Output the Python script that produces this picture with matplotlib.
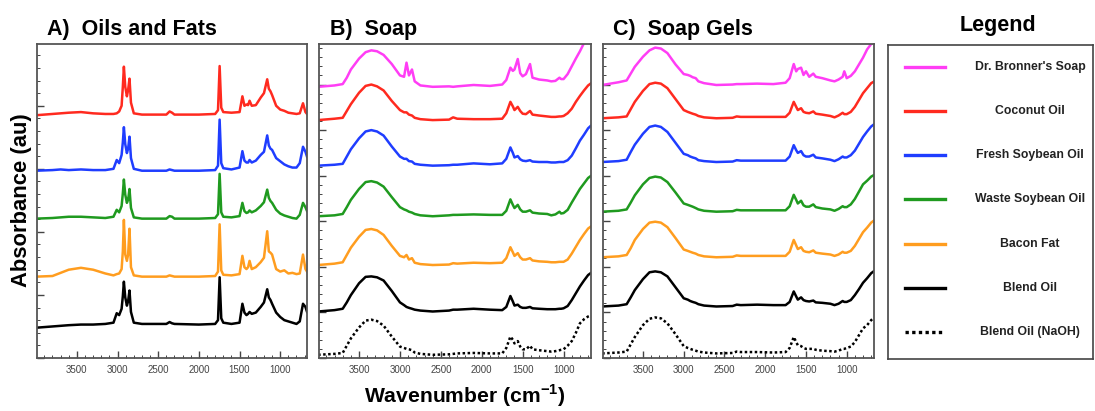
import numpy as np
import matplotlib
matplotlib.use('Agg')
from matplotlib import pyplot as plt
from matplotlib.ticker import MultipleLocator

plt.rcParams['font.family'] = ['Liberation Sans', 'DejaVu Sans']
plt.rcParams['mathtext.fontset'] = 'custom'
plt.rcParams['mathtext.rm'] = 'Liberation Sans'
plt.rcParams['mathtext.bf'] = 'Liberation Sans:bold'

# ---- panel A: oils and fats (absorbance above own baseline, stacked by offset)
wn_oils = [4000, 3800, 3700, 3600, 3450, 3300, 3150, 3050, 3010, 2980, 2950, 2935, 2922, 2905,
           2885, 2870, 2853, 2835, 2800, 2700, 2400, 2360, 2330, 2300, 2000, 1800, 1765, 1745,
           1725, 1700, 1600, 1500, 1465, 1440, 1415, 1395, 1377, 1350, 1300, 1240, 1200, 1160,
           1140, 1120, 1100, 1050, 1000, 950, 900, 850, 800, 760, 720, 690, 670]
oil_coconut = [0, 0.02, 0.03, 0.04, 0.05, 0.03, 0.02, 0.02, 0.03, 0.06, 0.15, 0.45, 0.77, 0.45,
               0.3, 0.4, 0.58, 0.2, 0.03, 0.01, 0.01, 0.06, 0.04, 0.01, 0.01, 0.02, 0.08, 0.78,
               0.12, 0.05, 0.04, 0.05, 0.3, 0.15, 0.17, 0.16, 0.23, 0.15, 0.16, 0.28, 0.35, 0.57,
               0.42, 0.38, 0.32, 0.15, 0.09, 0.07, 0.04, 0.03, 0.02, 0.03, 0.19, 0.05, 0.02]
oil_fresh_soy = [0, 0.01, 0.02, 0.01, 0.02, 0.01, 0.01, 0.03, 0.17, 0.12, 0.25, 0.45, 0.69, 0.42,
                 0.28, 0.35, 0.54, 0.2, 0.03, 0.0, 0.0, 0.02, 0.01, 0.0, 0.0, 0.01, 0.08, 0.81,
                 0.12, 0.04, 0.02, 0.05, 0.31, 0.16, 0.13, 0.13, 0.17, 0.13, 0.16, 0.25, 0.3, 0.56,
                 0.4, 0.35, 0.33, 0.2, 0.15, 0.1, 0.07, 0.05, 0.05, 0.12, 0.38, 0.3, 0.22]
oil_waste_soy = [0, 0.01, 0.02, 0.03, 0.03, 0.02, 0.01, 0.03, 0.14, 0.1, 0.2, 0.4, 0.62, 0.38,
                 0.25, 0.3, 0.47, 0.17, 0.02, 0.0, 0.0, 0.04, 0.03, 0.0, 0.0, 0.01, 0.07, 0.71,
                 0.1, 0.03, 0.02, 0.04, 0.25, 0.12, 0.09, 0.1, 0.13, 0.1, 0.13, 0.2, 0.26, 0.46,
                 0.33, 0.28, 0.25, 0.14, 0.08, 0.05, 0.03, 0.01, 0.0, 0.06, 0.25, 0.18, 0.12]
oil_bacon = [0, 0.01, 0.06, 0.11, 0.14, 0.11, 0.05, 0.02, 0.04, 0.05, 0.12, 0.4, 0.9, 0.35,
             0.25, 0.35, 0.76, 0.15, 0.02, 0.0, 0.0, 0.02, 0.01, 0.0, 0.0, 0.01, 0.08, 0.83,
             0.1, 0.03, 0.02, 0.04, 0.33, 0.15, 0.12, 0.15, 0.25, 0.12, 0.15, 0.23, 0.3, 0.72,
             0.4, 0.38, 0.35, 0.12, 0.08, 0.1, 0.05, 0.06, 0.04, 0.05, 0.35, 0.12, 0.08]
oil_blend = [0, 0.02, 0.03, 0.04, 0.05, 0.05, 0.06, 0.08, 0.23, 0.2, 0.3, 0.5, 0.73, 0.48,
             0.35, 0.42, 0.59, 0.25, 0.08, 0.06, 0.06, 0.09, 0.07, 0.06, 0.05, 0.06, 0.12, 0.8,
             0.15, 0.08, 0.06, 0.08, 0.38, 0.24, 0.2, 0.22, 0.25, 0.22, 0.24, 0.33, 0.4, 0.61,
             0.48, 0.44, 0.38, 0.24, 0.17, 0.12, 0.1, 0.08, 0.06, 0.1, 0.38, 0.33, 0.25]
offsets_oils = [3.85, 2.97, 2.21, 1.29, 0.48]

# ---- panels B and C share a wavenumber grid
wn_soap = [4000, 3800, 3700, 3650, 3600, 3500, 3420, 3350, 3280, 3200, 3100, 3000, 2950, 2920,
           2890, 2853, 2820, 2750, 2600, 2400, 2350, 2300, 2100, 1900, 1750, 1700, 1650, 1620,
           1600, 1560, 1530, 1500, 1460, 1410, 1380, 1300, 1200, 1150, 1100, 1050, 1030, 1000,
           950, 900, 850, 800, 750, 700, 670]

soap_bronner = [0, 0.03, 0.06, 0.2, 0.38, 0.62, 0.76, 0.8, 0.78, 0.7, 0.5, 0.25, 0.22, 0.53,
                0.25, 0.38, 0.12, 0.03, 0.0, 0.01, 0.0, 0.01, 0.04, 0.02, 0.05, 0.15, 0.42, 0.35,
                0.38, 0.61, 0.3, 0.23, 0.28, 0.5, 0.2, 0.16, 0.14, 0.12, 0.13, 0.2, 0.17, 0.17,
                0.28, 0.45, 0.62, 0.78, 0.96, 1.1, 1.2]
soap_coconut = [0, 0.03, 0.05, 0.2, 0.35, 0.6, 0.75, 0.78, 0.74, 0.65, 0.42, 0.22, 0.17, 0.17,
                0.12, 0.1, 0.05, 0.02, 0.0, 0.01, 0.06, 0.03, 0.02, 0.02, 0.03, 0.15, 0.4, 0.3,
                0.22, 0.29, 0.2, 0.14, 0.13, 0.2, 0.12, 0.1, 0.08, 0.07, 0.07, 0.08, 0.08, 0.09,
                0.15, 0.25, 0.4, 0.53, 0.65, 0.76, 0.8]
soap_fresh_soy = [0, 0.02, 0.04, 0.2, 0.36, 0.6, 0.75, 0.78, 0.75, 0.66, 0.42, 0.2, 0.15, 0.15,
                  0.1, 0.09, 0.04, 0.02, 0.0, 0.01, 0.02, 0.02, 0.05, 0.03, 0.05, 0.15, 0.4, 0.28,
                  0.18, 0.21, 0.14, 0.11, 0.1, 0.12, 0.09, 0.08, 0.08, 0.07, 0.07, 0.08, 0.08, 0.08,
                  0.12, 0.22, 0.38, 0.55, 0.68, 0.82, 0.87]
soap_waste_soy = [0, 0.02, 0.05, 0.2, 0.36, 0.6, 0.75, 0.77, 0.74, 0.65, 0.42, 0.2, 0.15, 0.13,
                  0.1, 0.08, 0.05, 0.02, 0.0, 0.02, 0.03, 0.03, 0.04, 0.03, 0.03, 0.12, 0.37, 0.25,
                  0.18, 0.25, 0.15, 0.1, 0.1, 0.13, 0.08, 0.06, 0.05, 0.02, 0.04, 0.1, 0.06, 0.07,
                  0.14, 0.3, 0.45, 0.6, 0.72, 0.84, 0.88]
soap_bacon = [0, 0.03, 0.06, 0.22, 0.38, 0.62, 0.77, 0.79, 0.76, 0.66, 0.42, 0.2, 0.17, 0.22,
              0.12, 0.15, 0.05, 0.02, 0.0, 0.01, 0.04, 0.03, 0.05, 0.04, 0.05, 0.15, 0.39, 0.28,
              0.2, 0.26, 0.17, 0.12, 0.12, 0.15, 0.1, 0.08, 0.07, 0.06, 0.06, 0.07, 0.07, 0.07,
              0.12, 0.25, 0.4, 0.55, 0.68, 0.8, 0.84]
soap_blend = [0, 0.03, 0.06, 0.2, 0.36, 0.62, 0.76, 0.77, 0.75, 0.68, 0.45, 0.2, 0.14, 0.1,
              0.08, 0.06, 0.04, 0.02, 0.0, 0.02, 0.04, 0.04, 0.06, 0.04, 0.03, 0.1, 0.34, 0.22,
              0.13, 0.15, 0.1, 0.08, 0.08, 0.1, 0.07, 0.06, 0.05, 0.05, 0.05, 0.06, 0.06, 0.07,
              0.12, 0.25, 0.4, 0.55, 0.68, 0.8, 0.84]
soap_blend_naoh = [0, 0.02, 0.04, 0.2, 0.36, 0.6, 0.75, 0.77, 0.74, 0.64, 0.4, 0.18, 0.15, 0.13,
                   0.12, 0.1, 0.05, 0.02, 0.0, 0.01, 0.02, 0.03, 0.04, 0.03, 0.03, 0.15, 0.4, 0.33,
                   0.25, 0.3, 0.18, 0.12, 0.12, 0.2, 0.12, 0.1, 0.08, 0.07, 0.08, 0.1, 0.11, 0.12,
                   0.2, 0.3, 0.48, 0.69, 0.78, 0.84, 0.86]
offsets_soap = [5.95, 5.22, 4.22, 3.11, 2.04, 1.02, 0.07]

gel_bronner = [0, 0.06, 0.1, 0.25, 0.4, 0.62, 0.76, 0.82, 0.8, 0.7, 0.45, 0.24, 0.22, 0.2,
               0.17, 0.15, 0.08, 0.04, 0.0, 0.01, 0.02, 0.02, 0.03, 0.02, 0.05, 0.15, 0.46, 0.3,
               0.35, 0.38, 0.22, 0.3, 0.18, 0.25, 0.18, 0.15, 0.1, 0.08, 0.12, 0.18, 0.3, 0.15,
               0.2, 0.3, 0.45, 0.6, 0.78, 0.9, 1.05]
gel_coconut = [0, 0.02, 0.04, 0.2, 0.36, 0.6, 0.75, 0.78, 0.76, 0.66, 0.42, 0.18, 0.14, 0.12,
               0.1, 0.08, 0.05, 0.02, 0.0, 0.01, 0.04, 0.03, 0.03, 0.03, 0.03, 0.12, 0.36, 0.25,
               0.18, 0.22, 0.14, 0.12, 0.11, 0.15, 0.1, 0.08, 0.05, 0.02, 0.06, 0.12, 0.09, 0.09,
               0.14, 0.25, 0.4, 0.55, 0.66, 0.77, 0.8]
gel_fresh_soy = [0, 0.02, 0.05, 0.22, 0.38, 0.62, 0.77, 0.8, 0.77, 0.66, 0.42, 0.18, 0.15, 0.12,
                 0.1, 0.08, 0.04, 0.02, 0.0, 0.01, 0.04, 0.03, 0.03, 0.03, 0.03, 0.12, 0.37, 0.26,
                 0.2, 0.24, 0.15, 0.12, 0.12, 0.16, 0.1, 0.08, 0.05, 0.02, 0.06, 0.12, 0.1, 0.1,
                 0.15, 0.25, 0.4, 0.55, 0.67, 0.78, 0.82]
gel_waste_soy = [0, 0.02, 0.05, 0.2, 0.36, 0.6, 0.74, 0.77, 0.75, 0.65, 0.42, 0.18, 0.15, 0.13,
                 0.11, 0.08, 0.05, 0.02, 0.0, 0.01, 0.04, 0.03, 0.03, 0.03, 0.03, 0.12, 0.37, 0.26,
                 0.18, 0.24, 0.14, 0.11, 0.11, 0.16, 0.1, 0.07, 0.05, 0.02, 0.06, 0.12, 0.1, 0.1,
                 0.16, 0.28, 0.44, 0.6, 0.68, 0.77, 0.8]
gel_bacon = [0, 0.02, 0.05, 0.2, 0.38, 0.62, 0.76, 0.78, 0.76, 0.66, 0.42, 0.17, 0.14, 0.12,
             0.1, 0.08, 0.05, 0.02, 0.0, 0.01, 0.04, 0.03, 0.03, 0.03, 0.03, 0.12, 0.38, 0.26,
             0.18, 0.22, 0.14, 0.12, 0.11, 0.15, 0.1, 0.08, 0.06, 0.03, 0.06, 0.12, 0.1, 0.1,
             0.14, 0.25, 0.4, 0.55, 0.65, 0.76, 0.8]
gel_blend = [0, 0.02, 0.05, 0.2, 0.36, 0.6, 0.75, 0.77, 0.75, 0.66, 0.42, 0.18, 0.15, 0.12,
             0.1, 0.08, 0.05, 0.02, 0.0, 0.01, 0.04, 0.03, 0.04, 0.03, 0.03, 0.1, 0.33, 0.22,
             0.15, 0.2, 0.14, 0.12, 0.11, 0.13, 0.09, 0.08, 0.06, 0.03, 0.06, 0.12, 0.1, 0.1,
             0.14, 0.25, 0.38, 0.52, 0.62, 0.73, 0.77]
gel_blend_naoh = [0, 0.02, 0.04, 0.2, 0.36, 0.62, 0.76, 0.79, 0.77, 0.66, 0.42, 0.16, 0.12, 0.1,
                  0.08, 0.06, 0.04, 0.02, 0.0, 0.01, 0.04, 0.03, 0.03, 0.02, 0.03, 0.12, 0.36, 0.25,
                  0.18, 0.16, 0.12, 0.1, 0.1, 0.1, 0.08, 0.06, 0.05, 0.04, 0.06, 0.1, 0.1, 0.12,
                  0.15, 0.25, 0.4, 0.55, 0.62, 0.73, 0.78]
offsets_gel = [5.99, 5.26, 4.30, 3.21, 2.21, 1.13, 0.10]

legend_labels = ["Dr. Bronner's Soap", 'Coconut Oil', 'Fresh Soybean Oil', 'Waste Soybean Oil',
                 'Bacon Fat', 'Blend Oil', 'Blend Oil (NaOH)']
colors = ['#ff3df5', '#ff2a1f', '#1f3dff', '#1f9a1f', '#ff9d1f', 'black', 'black']
styles = ['-', '-', '-', '-', '-', '-', (0, (1, 1))]

lw = 1.8


def setup_axes(ax, top):
    ax.set_xlim(3990, 665)
    ax.set_ylim(0, top)
    ax.xaxis.set_major_locator(MultipleLocator(500))
    ax.xaxis.set_minor_locator(MultipleLocator(100))
    ax.yaxis.set_major_locator(MultipleLocator(1))
    ax.yaxis.set_minor_locator(MultipleLocator(0.2))
    ax.tick_params(which='both', direction='in', top=False, right=False, labelleft=False,
                   color='#444')
    ax.tick_params(which='major', length=5, width=1, labelsize=7, labelcolor='#444', pad=5)
    ax.tick_params(which='minor', length=2.5, width=0.7)
    for s in ax.spines.values():
        s.set_color('#555')
        s.set_linewidth(1.3)


fig = plt.figure(figsize=(10.95, 4.11), dpi=100)

ax_a = fig.add_axes([0.0338, 0.129, 0.2470, 0.764])
ax_b = fig.add_axes([0.2913, 0.129, 0.2484, 0.764])
ax_c = fig.add_axes([0.5507, 0.129, 0.2475, 0.764])

oils = [oil_coconut, oil_fresh_soy, oil_waste_soy, oil_bacon, oil_blend]
for vals, off, col in zip(oils, offsets_oils, colors[1:6]):
    ax_a.plot(wn_oils, np.array(vals) + off, color=col, lw=lw)
setup_axes(ax_a, 4.98)

soaps = [soap_bronner, soap_coconut, soap_fresh_soy, soap_waste_soy, soap_bacon, soap_blend,
         soap_blend_naoh]
for vals, off, col, ls in zip(soaps, offsets_soap, colors, styles):
    ax_b.plot(wn_soap, np.array(vals) + off, color=col, lw=lw, ls=ls)
setup_axes(ax_b, 6.89)

gels = [gel_bronner, gel_coconut, gel_fresh_soy, gel_waste_soy, gel_bacon, gel_blend,
        gel_blend_naoh]
for vals, off, col, ls in zip(gels, offsets_gel, colors, styles):
    ax_c.plot(wn_soap, np.array(vals) + off, color=col, lw=lw, ls=ls)
setup_axes(ax_c, 6.89)

title_kw = dict(fontsize=15.5, fontweight='bold', va='baseline')
fig.text(47 / 1095, 1 - 35 / 411, 'A)  Oils and Fats', **title_kw)
fig.text(330 / 1095, 1 - 35 / 411, 'B)  Soap', **title_kw)
fig.text(613 / 1095, 1 - 35 / 411, 'C)  Soap Gels', **title_kw)
fig.text(998 / 1095, 1 - 31 / 411, 'Legend', ha='center', **title_kw)

fig.text(22 / 1095, 0.513, 'Absorbance (au)', rotation=90, ha='center', va='center',
         fontsize=15.8, fontweight='bold')
fig.text(465 / 1095, 1 - 403 / 411, r'Wavenumber (cm$^{\mathbf{-1}}$)', ha='center',
         va='baseline', fontsize=15.2, fontweight='bold')

# legend panel
ax_l = fig.add_axes([0.811, 0.126, 0.187, 0.764])
ax_l.set_xlim(0, 1)
ax_l.set_ylim(0, 1)
ax_l.set_xticks([])
ax_l.set_yticks([])
for s in ax_l.spines.values():
    s.set_color('#444')
    s.set_linewidth(1.2)
rows = np.linspace(0.931, 0.087, len(legend_labels))
for y, lab, col, ls in zip(rows, legend_labels, colors, styles):
    ax_l.plot([0.083, 0.278], [y, y], color=col, lw=2.4, ls=ls)
    ax_l.text(0.693, y, lab, ha='center', va='center', fontsize=8.8, fontweight='bold',
              color='#222')

fig.savefig('out.png', dpi=100)
